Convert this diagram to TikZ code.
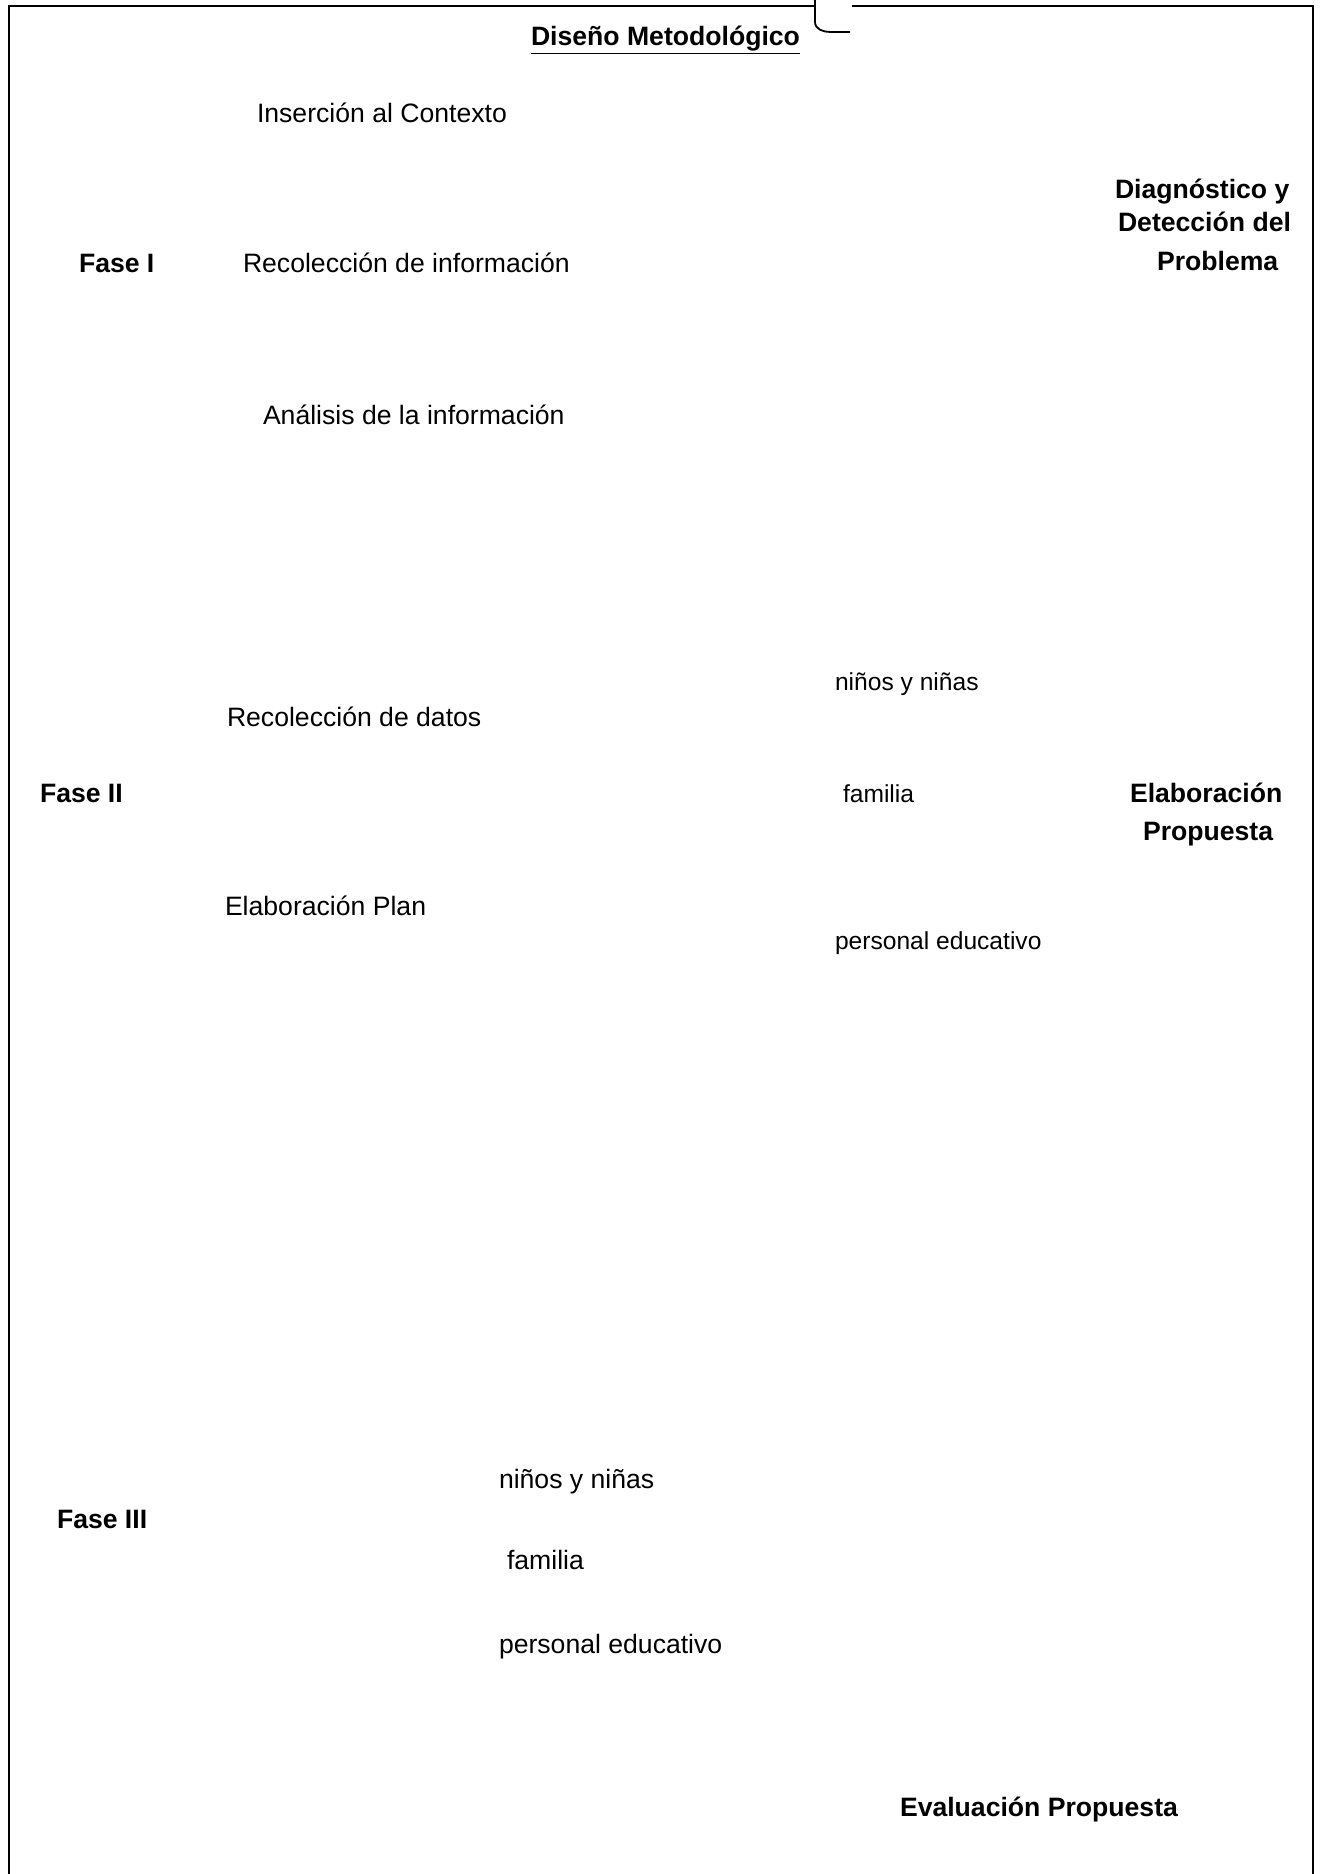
\documentclass[tikz,border=0pt]{standalone}
\usepackage{fontspec}
\setmainfont{Liberation Sans}
\begin{document}
\begin{tikzpicture}[x=0.5pt,y=-0.5pt,
  txt/.style={anchor=base west,inner sep=0pt,outer sep=0pt,font=\fontsize{13.3pt}{16pt}\selectfont},
  btxt/.style={txt,font=\fontsize{13.3pt}{16pt}\selectfont\bfseries},
  stxt/.style={anchor=base west,inner sep=0pt,outer sep=0pt,font=\fontsize{12.3pt}{15pt}\selectfont},
  frameline/.style={line width=1.2pt,black}]
\useasboundingbox (0,0) rectangle (1319,1874);
% frame
\coordinate (tl) at (9,6);
\coordinate (bl) at (9,1874);
\coordinate (tr) at (1313,6);
\coordinate (br) at (1313,1874);
\coordinate (gapL) at (815,6);
\coordinate (gapTop) at (815,0);
\coordinate (gapR) at (852,6);
\coordinate (hookEnd) at (850,32);
\draw[frameline] (bl) -- (tl) -- (gapL);
\draw[frameline] (gapR) -- (tr) -- (br);
\draw[line width=0.9pt] (gapTop) -- (815,22) to[out=-90,in=180] (830,32) -- (hookEnd);
% title
\node[btxt] (title) at (531,45) {\underline{Diseño Metodológico}};
% Fase I
\node[txt] (ins) at (257,122) {Inserción al Contexto};
\node[btxt] (f1) at (79,272) {Fase I};
\node[txt] (rinfo) at (243,272) {Recolección de información};
\node[txt] (anal) at (263,424) {Análisis de la información};
\node[btxt] (diag1) at (1115,198) {Diagnóstico y};
\node[btxt] (diag2) at (1118,231) {Detección del};
\node[btxt] (diag3) at (1157,270) {Problema};
% Fase II
\node[stxt] (n1) at (835,690) {niños y niñas};
\node[txt] (rdat) at (227,726) {Recolección de datos};
\node[btxt] (f2) at (40,802) {Fase II};
\node[stxt] (fam1) at (843,802) {familia};
\node[btxt] (elab1) at (1130,802) {Elaboración};
\node[btxt] (elab2) at (1143,840) {Propuesta};
\node[txt] (plan) at (225,915) {Elaboración Plan};
\node[stxt] (pe1) at (835,949) {personal educativo};
% Fase III
\node[txt] (n2) at (499,1488) {niños y niñas};
\node[btxt] (f3) at (57,1528) {Fase III};
\node[txt] (fam2) at (507,1569) {familia};
\node[txt] (pe2) at (499,1653) {personal educativo};
\node[btxt] (eval) at (900,1816) {Evaluación Propuesta};
\end{tikzpicture}
\end{document}
